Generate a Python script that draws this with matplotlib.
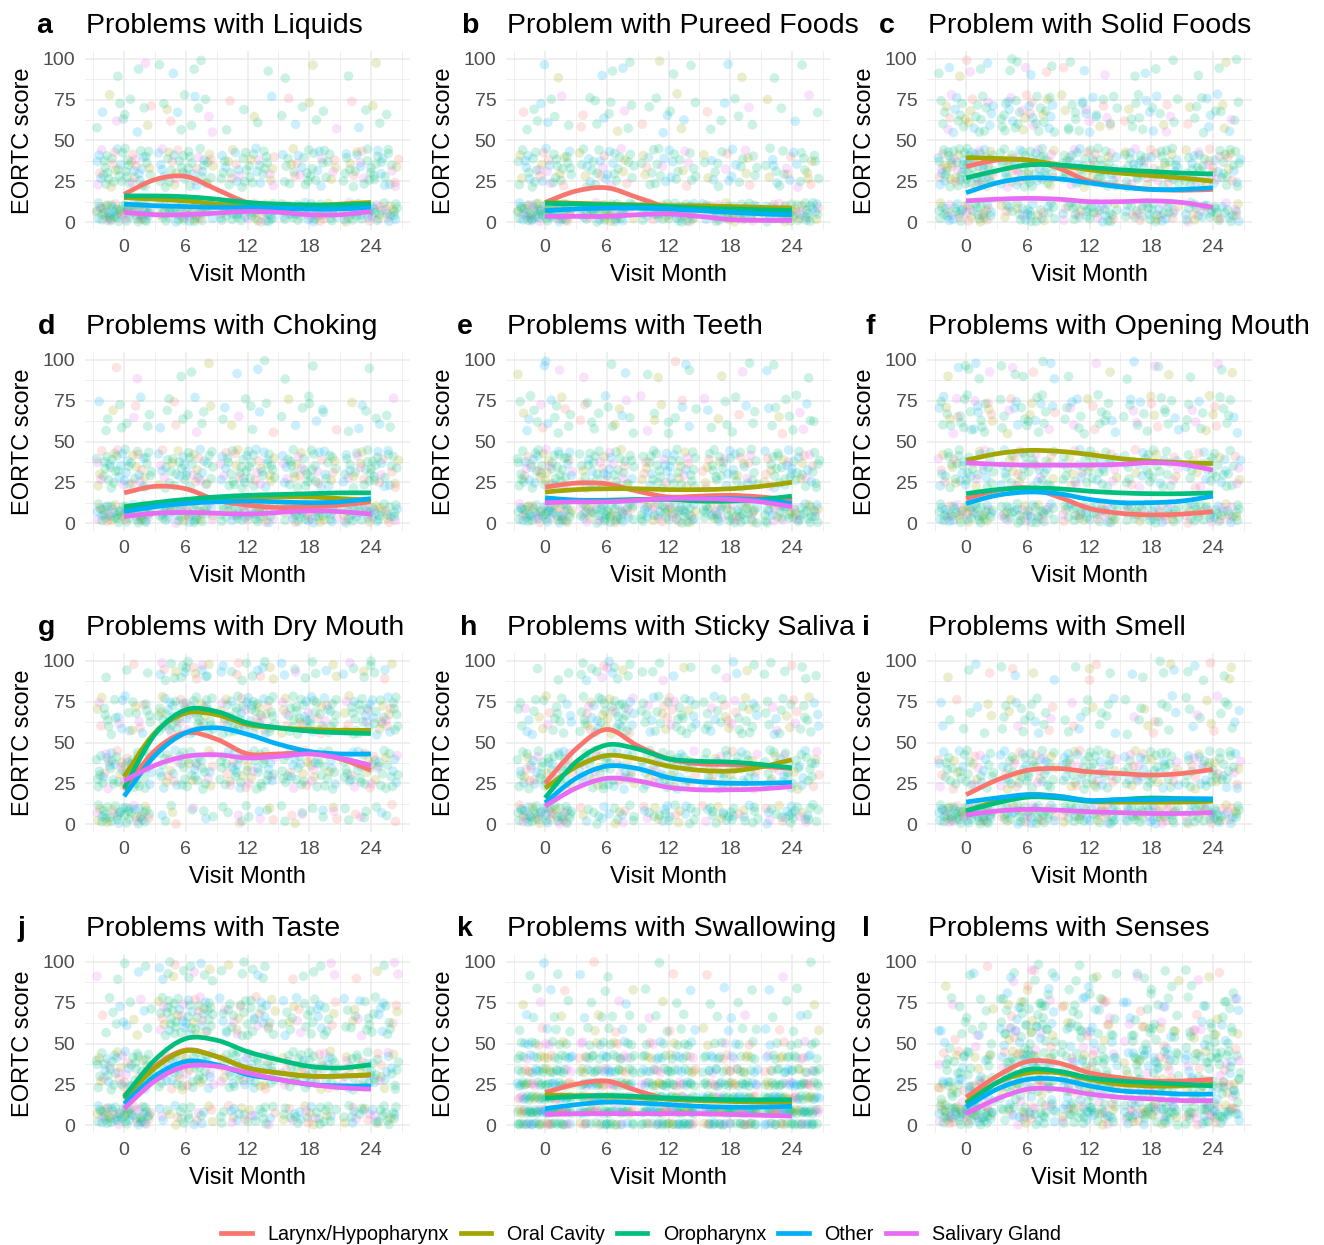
import numpy as np
import matplotlib.pyplot as plt
from matplotlib.lines import Line2D
from matplotlib.path import Path
from matplotlib.patches import PathPatch

plt.rcParams['font.family'] = ['Liberation Sans', 'DejaVu Sans']

# tumour sites (ggplot default hue colours)
groups = ['Larynx/Hypopharynx', 'Oral Cavity', 'Oropharynx', 'Other', 'Salivary Gland']
colors = ['#F8766D', '#A3A500', '#00BF7D', '#00B0F6', '#E76BF3']
group_share = [0.09, 0.12, 0.50, 0.20, 0.09]

visits = [0, 6, 12, 18, 24]
fit_months = [0, 3, 6, 9, 12, 15, 18, 21, 24]

levels4 = [0, 33.3, 66.7, 100]
levels7 = [0, 16.7, 33.3, 50, 66.7, 83.3, 100]
levels13 = [0, 8.3, 16.7, 25, 33.3, 41.7, 50, 58.3, 66.7, 75, 83.3, 91.7, 100]

# number of responses per visit (rows) and score level (columns)
liquids_n = [[130, 50, 12, 6], [95, 45, 12, 8], [100, 40, 6, 3], [95, 35, 8, 3], [95, 40, 6, 4]]
pureed_n = [[135, 40, 10, 5], [100, 35, 12, 8], [100, 30, 10, 5], [95, 25, 8, 3], [100, 28, 5, 3]]
solid_n = [[85, 75, 30, 15], [60, 60, 35, 15], [70, 55, 25, 10], [70, 50, 20, 8], [70, 50, 18, 8]]
choking_n = [[120, 50, 12, 6], [95, 45, 12, 6], [90, 50, 10, 4], [90, 45, 10, 4], [90, 45, 10, 4]]
teeth_n = [[115, 55, 18, 8], [100, 45, 15, 6], [95, 45, 12, 8], [90, 40, 12, 5], [85, 45, 14, 6]]
opening_n = [[100, 45, 30, 15], [85, 40, 25, 15], [85, 40, 20, 8], [80, 35, 20, 8], [80, 35, 20, 8]]
drymouth_n = [[90, 55, 30, 8], [20, 45, 55, 40], [25, 50, 55, 28], [25, 45, 50, 22], [25, 45, 45, 22]]
sticky_n = [[105, 50, 25, 8], [40, 45, 45, 30], [50, 45, 35, 15], [55, 45, 30, 12], [55, 40, 25, 12]]
smell_n = [[125, 40, 10, 8], [90, 50, 20, 10], [85, 50, 15, 10], [85, 45, 15, 10], [80, 45, 15, 12]]
taste_n = [[120, 55, 15, 8], [45, 50, 55, 28], [55, 50, 40, 15], [60, 50, 30, 12], [60, 45, 28, 10]]
swallow_n = [[55, 38, 32, 26, 22, 18, 12, 5, 4, 3, 3, 2, 1],
             [40, 30, 30, 26, 22, 18, 12, 5, 5, 3, 2, 2, 1],
             [50, 35, 30, 25, 20, 16, 10, 5, 3, 2, 2, 1, 1],
             [50, 35, 28, 24, 18, 15, 8, 4, 3, 2, 2, 1, 1],
             [50, 35, 30, 25, 18, 15, 8, 4, 3, 2, 2, 1, 1]]
senses_n = [[100, 40, 30, 15, 8, 4, 3], [40, 35, 40, 35, 25, 15, 8], [55, 40, 35, 25, 18, 10, 5],
            [60, 40, 35, 25, 15, 8, 4], [60, 40, 35, 25, 15, 8, 4]]

# smoothed mean score per site at fit_months
liquids_fit = [[17, 26, 28, 20, 12, 10, 9, 9, 11], [15, 14, 13, 11, 10, 10, 10, 11, 12],
               [16, 16, 15.5, 14, 12, 11, 10.5, 10.5, 11], [11, 10, 9.5, 9, 9, 8.5, 8, 8, 9],
               [6, 4.5, 4.5, 5.5, 6.5, 6, 4.5, 4.5, 6.5]]
pureed_fit = [[12, 19, 21, 15, 9, 8.5, 8, 7, 6], [12, 11.5, 11, 10.5, 10, 10, 9.5, 9, 8.5],
              [11.5, 11, 10.5, 10, 9.5, 8.5, 8, 7.5, 7], [7, 8, 8.5, 8.5, 8, 7, 6, 5, 4.5],
              [3.5, 3.5, 3.5, 4.5, 5, 3.5, 1.5, 1, 1]]
solid_fit = [[34, 38, 38, 33, 25, 22, 20, 19.5, 20], [39.5, 39, 38, 35, 32, 30, 28.5, 27, 25],
             [27, 31.5, 35, 35, 33.5, 32, 31, 30, 29.5], [18, 24, 27, 26.5, 24, 21.5, 20, 20, 21],
             [13, 14, 14.5, 14, 12.5, 12.5, 13, 12, 9]]
choking_fit = [[18.5, 22.5, 21, 14, 11, 9.5, 10, 11, 13], [9, 12, 14, 15, 16, 16, 16, 15, 14],
               [10, 12.5, 14.5, 16, 17, 17.5, 18, 18.5, 18.5], [7, 10, 12, 13, 13.5, 13, 12.5, 13, 15],
               [4, 6, 6.5, 6, 5.5, 6.5, 7.5, 7, 5.5]]
teeth_fit = [[22, 24.5, 24, 19.5, 16, 16.5, 17, 16, 14], [19, 20.5, 21, 21, 20.5, 20.5, 21, 22.5, 25],
             [14, 14, 14, 14.5, 14.5, 13.5, 13.5, 14.5, 16.5], [15.5, 14, 13.5, 14, 15, 15, 15, 14, 12],
             [12.5, 13, 13, 14, 15, 15, 14.5, 13, 10]]
opening_fit = [[15, 20, 21.5, 16, 9, 6, 5, 5.5, 7], [38.5, 42.5, 44.5, 44, 42, 39.5, 38, 37, 36.5],
               [18, 20.5, 21.5, 21, 19.5, 18.5, 18, 18, 18.5], [12, 17, 19, 18, 14.5, 12.5, 12.5, 13.5, 16.5],
               [37, 36, 35.5, 35.5, 35.5, 36, 37, 36, 32.5]]
drymouth_fit = [[21, 45, 56, 52, 43, 43, 43.5, 40, 33], [29, 56, 68, 67, 61, 59, 58, 57.5, 57.5],
                [22, 55, 70, 69, 62, 59, 57, 56, 55.5], [17, 42, 56, 59, 55, 49, 44.5, 43, 43],
                [26.5, 36, 41.5, 42.5, 40.5, 41.5, 43, 40.5, 36]]
sticky_fit = [[25, 46, 58, 48, 40, 37, 36.5, 35.5, 34], [22, 35, 42, 40, 35.5, 33, 32.5, 35, 39.5],
              [16, 38, 48.5, 46, 40, 38.5, 38, 36.5, 34.5], [13, 28, 35.5, 34, 28.5, 26, 25, 25, 25.5],
              [11, 22, 28, 26.5, 22.5, 21, 21, 21.5, 23]]
smell_fit = [[18, 27, 33, 34, 32, 31, 30, 31, 33.5], [8, 14, 18, 17, 14, 13.5, 13.5, 13.5, 14],
             [8, 13, 16.5, 16, 14, 15, 16, 15.5, 15], [13.5, 16, 18, 17, 14.5, 15, 15, 15.5, 15.5],
             [5.5, 8, 9, 8.5, 7.5, 7, 6.5, 6.5, 7]]
taste_fit = [[18, 36, 46, 42, 35, 32, 30, 30, 30.5], [16, 35, 45.5, 42, 35, 32, 30, 30, 31],
             [17, 40, 53, 52, 45, 40, 36, 35, 37], [13, 30, 39, 37, 31, 28, 25, 24, 24],
             [10, 27, 36, 36, 32, 28, 25, 23, 22]]
swallow_fit = [[20, 25, 27, 21, 16, 15.5, 15, 14.5, 14], [18.5, 18, 18, 17, 16, 15, 14.5, 14, 14],
               [16.5, 17.5, 18, 17.5, 16.5, 16, 15.5, 15.5, 15.5], [10, 12.5, 14, 13.5, 12.5, 11.5, 11, 11, 11.5],
               [6.5, 7, 7, 7, 7, 7, 6.5, 6, 5.5]]
senses_fit = [[17, 30, 39, 38, 32, 29, 27, 27, 28], [14, 26, 32, 32, 28, 25, 24, 24, 25],
              [13, 26, 34, 33, 29, 27, 26, 25, 24], [11, 22, 28, 28, 24, 21, 20, 19, 19],
              [7, 16, 22, 22, 19, 17, 16, 15, 15]]

panels = [
    ('a', 'Problems with Liquids', liquids_n, levels4, liquids_fit),
    ('b', 'Problem with Pureed Foods', pureed_n, levels4, pureed_fit),
    ('c', 'Problem with Solid Foods', solid_n, levels4, solid_fit),
    ('d', 'Problems with Choking', choking_n, levels4, choking_fit),
    ('e', 'Problems with Teeth', teeth_n, levels4, teeth_fit),
    ('f', 'Problems with Opening Mouth', opening_n, levels4, opening_fit),
    ('g', 'Problems with Dry Mouth', drymouth_n, levels4, drymouth_fit),
    ('h', 'Problems with Sticky Saliva', sticky_n, levels4, sticky_fit),
    ('i', 'Problems with Smell', smell_n, levels4, smell_fit),
    ('j', 'Problems with Taste', taste_n, levels4, taste_fit),
    ('k', 'Problems with Swallowing', swallow_n, levels13, swallow_fit),
    ('l', 'Problems with Senses', senses_n, levels7, senses_fit),
]
tag_x = [44, 470, 887, 47, 465, 870, 47, 469, 866, 21, 465, 866]


def halton(i, base):
    # low-discrepancy sequence used as a deterministic jitter
    f, r = 1.0, 0.0
    while i > 0:
        f /= base
        r += f * (i % base)
        i //= base
    return r


def smooth_path(x, y):
    # Catmull-Rom style bezier through the fitted points
    x = np.asarray(x, float)
    y = np.asarray(y, float)
    verts = [(x[0], y[0])]
    codes = [Path.MOVETO]
    n = len(x)
    for i in range(n - 1):
        i0, i3 = max(i - 1, 0), min(i + 2, n - 1)
        c1 = (x[i] + (x[i + 1] - x[i0]) / 6, y[i] + (y[i + 1] - y[i0]) / 6)
        c2 = (x[i + 1] - (x[i3] - x[i]) / 6, y[i + 1] - (y[i3] - y[i]) / 6)
        verts += [c1, c2, (x[i + 1], y[i + 1])]
        codes += [Path.CURVE4] * 3
    return Path(verts, codes)


W, H = 1324, 1245
fig = plt.figure(figsize=(W / 100, H / 100), dpi=100)
cum_share = np.cumsum(group_share)
rgba = [plt.matplotlib.colors.to_rgba(c, 0.2) for c in colors]

for idx, (tag, title, counts, levels, fit) in enumerate(panels):
    r, c = divmod(idx, 3)
    left = 85 + 421 * c
    top = 50.8 + 301 * r
    ax = fig.add_axes([left / W, 1 - (top + 179.4) / H, 325 / W, 179.4 / H])

    jh = 1.3 if tag == 'k' else 12
    xs, ys, cs = [], [], []
    k = 1
    for v, row in zip(visits, counts):
        for lev, n in zip(levels, row):
            for m in range(n):
                k += 1
                x = v + (halton(k, 2) - 0.5) * 5.4
                y = lev + (halton(k, 3) - 0.5) * 2 * jh
                if y < 0 or y > 100:
                    continue
                g = int(np.searchsorted(cum_share, (k * 0.6180339887 + 0.37 * idx) % 1.0))
                xs.append(x)
                ys.append(y)
                cs.append(rgba[min(g, 4)])
    ax.scatter(xs, ys, s=48, c=cs, edgecolors='none', zorder=2)

    for g in range(5):
        ax.add_patch(PathPatch(smooth_path(fit_months, fit[g]), fill=False, edgecolor=colors[g],
                               lw=3.4, zorder=3, capstyle='butt', joinstyle='round'))

    ax.set_xlim(-3.8, 27.8)
    ax.set_ylim(-5, 105)
    ax.set_xticks(visits)
    ax.set_yticks([0, 25, 50, 75, 100])
    ax.set_xticks([-3, 3, 9, 15, 21, 27], minor=True)
    ax.set_yticks([12.5, 37.5, 62.5, 87.5], minor=True)
    ax.grid(True, which='major', color='#EBEBEB', lw=1.1)
    ax.grid(True, which='minor', color='#EBEBEB', lw=0.55)
    ax.set_axisbelow(True)
    for s in ax.spines.values():
        s.set_visible(False)
    ax.tick_params(which='both', length=0, labelsize=14, labelcolor='#4D4D4D')
    ax.tick_params(axis='x', pad=6)
    ax.tick_params(axis='y', pad=7)

    ax.set_xlabel('Visit Month', fontsize=17)
    ax.set_ylabel('EORTC score', fontsize=17)
    ax.xaxis.set_label_coords(0.5, (230.2 - 275) / 179.4)
    ax.xaxis.label.set_va('center')
    ax.yaxis.set_label_coords((23 - 85) / 325, 0.5)
    ax.yaxis.label.set_va('center')

    base = 1 - (33 + 301 * r) / H
    fig.text(tag_x[idx] / W, base, tag, fontsize=20.5, fontweight='bold', ha='center', va='baseline')
    fig.text((left + 1) / W, base, title, fontsize=20.5, ha='left', va='baseline')

handles = [Line2D([], [], color=col, lw=3.4) for col in colors]
fig.legend(handles, groups, loc='center', bbox_to_anchor=(641 / W, 1 - 1234 / H), ncol=5,
           frameon=False, fontsize=14.2, handlelength=1.55, handletextpad=0.8, columnspacing=0.6)

fig.savefig('out.png', dpi=100)
